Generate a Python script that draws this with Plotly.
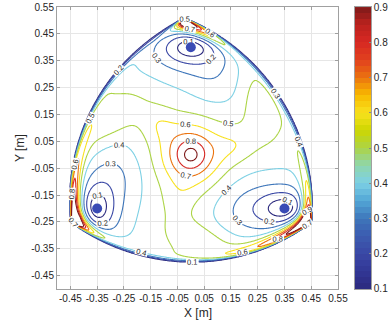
import numpy as np
import plotly.graph_objects as go

# ---------------- data ----------------
# boundary (rounded triangle made of three circular arcs through the vertices)
vertex_x = [-0.025, -0.448, 0.452]
vertex_y = [0.510, -0.252, -0.252]
arc_radius = 0.75

# minima (blue dots) and their wells
min_x = [0.0, -0.35, 0.35]
min_y = [0.40, -0.20, -0.20]
min_depth = [0.42, 0.42, 0.42]
min_sx = [0.13, 0.076, 0.115]
min_sy = [0.077, 0.103, 0.078]

# shoulders that stretch the 0.3/0.4 regions of the wells
shoulder_x = [0.09, -0.275, 0.19]
shoulder_y = [0.26, -0.06, -0.21]
shoulder_amp = [-0.08, -0.10, -0.09]
shoulder_sig = [0.075, 0.08, 0.08]

# central maximum
peak_x, peak_y = 0.0, 0.0
peak_amp = 0.50
peak_scale = 0.098
base_level = 0.46

# ridges from the centre towards the three saddles
ridge_ang = [12.0, 136.0, 255.0]
ridge_r = [0.17, 0.17, 0.17]
ridge_amp = [0.10, 0.10, 0.07]
ridge_len = [0.055, 0.055, 0.055]
ridge_wid = [0.045, 0.045, 0.045]

# lobes (>0.5) along the arcs: arc 0 = top-left, arc 1 = bottom, arc 2 = right
lobe_arc = [2, 0, 1]
lobe_theta = [33.0, 155.0, 275.0]
lobe_spread = [17.0, 17.0, 17.0]
lobe_depth = [0.085, 0.085, 0.085]
lobe_depth_slope = [0.0017, 0.0017, 0.0017]
lobe_width = [0.05, 0.05, 0.05]
lobe_amp = [0.13, 0.13, 0.13]

# hot spots along the arcs next to the vertices (cw side / ccw side)
spike_amp_cw = [6.0, 6.0, 6.0]
spike_len_cw = [0.16, 0.30, 0.28]
spike_amp_ccw = [2.0, 5.0, 5.0]
spike_len_ccw = [0.08, 0.12, 0.20]

levels = [0.1, 0.2, 0.3, 0.4, 0.5, 0.6, 0.7, 0.8, 0.9]
xticks = [-0.45, -0.35, -0.25, -0.15, -0.05, 0.05, 0.15, 0.25, 0.35, 0.45, 0.55]
yticks = [-0.45, -0.35, -0.25, -0.15, -0.05, 0.05, 0.15, 0.25, 0.35, 0.45, 0.55]

cmap_vals = [0.1, 0.15, 0.2, 0.25, 0.3, 0.35, 0.4, 0.45, 0.5, 0.55, 0.6, 0.65, 0.7, 0.75, 0.8, 0.85, 0.9]
cmap_rgb = [(44, 42, 126), (50, 55, 150), (58, 72, 165), (60, 92, 176), (62, 118, 186),
            (82, 166, 214), (125, 208, 228), (142, 214, 175), (172, 212, 70), (205, 214, 0),
            (248, 225, 30), (248, 185, 0), (235, 115, 15), (225, 65, 30), (214, 40, 35),
            (188, 34, 30), (125, 25, 25)]
n_bands = 48

# ---------------- field ----------------
N = 331
xs = np.linspace(-0.5, 0.55, N)
ys = np.linspace(-0.5, 0.55, N)
X, Y = np.meshgrid(xs, ys)
TH = np.degrees(np.arctan2(Y, X))

vx = np.array(vertex_x)
vy = np.array(vertex_y)
arc_d = []
for i in range(3):
    a = np.array([vx[i], vy[i]])
    b = np.array([vx[(i + 1) % 3], vy[(i + 1) % 3]])
    m = (a + b) / 2
    ch = b - a
    h = np.linalg.norm(ch) / 2
    n = np.array([-ch[1], ch[0]]) / np.linalg.norm(ch)
    if np.dot(n, -m) < 0:
        n = -n
    c = m + n * np.sqrt(arc_radius ** 2 - h ** 2)
    arc_d.append(arc_radius - np.hypot(X - c[0], Y - c[1]))
D = np.minimum(np.minimum(arc_d[0], arc_d[1]), arc_d[2])

F = base_level + peak_amp * np.exp(-(np.hypot(X - peak_x, Y - peak_y) / peak_scale) ** 1.5)
for k in range(3):
    q = ((X - min_x[k]) / min_sx[k]) ** 2 + ((Y - min_y[k]) / min_sy[k]) ** 2
    F -= min_depth[k] / (1 + q) * np.exp(-q / 10.0)
    F += shoulder_amp[k] * np.exp(-((X - shoulder_x[k]) ** 2 + (Y - shoulder_y[k]) ** 2)
                                  / (2 * shoulder_sig[k] ** 2))
for k in range(3):
    t = np.deg2rad(ridge_ang[k])
    cx, cy = ridge_r[k] * np.cos(t), ridge_r[k] * np.sin(t)
    u = (X - cx) * np.cos(t) + (Y - cy) * np.sin(t)
    v = -(X - cx) * np.sin(t) + (Y - cy) * np.cos(t)
    F += ridge_amp[k] * np.exp(-0.5 * ((u / ridge_len[k]) ** 2 + (v / ridge_wid[k]) ** 2))
for k in range(3):
    dth = (TH - lobe_theta[k] + 180.0) % 360.0 - 180.0
    dc = np.clip(lobe_depth[k] - lobe_depth_slope[k] * dth, 0.04, 0.16)
    F += lobe_amp[k] * np.exp(-0.5 * (dth / lobe_spread[k]) ** 2) \
        * np.exp(-0.5 * ((arc_d[lobe_arc[k]] - dc) / lobe_width[k]) ** 2)
# arc i joins vertex i and i+1: cw arc of vertex k is arc k-1, ccw arc is arc k
for k in range(3):
    s = np.hypot(X - vx[k], Y - vy[k])
    F += spike_amp_cw[k] * np.exp(-s / spike_len_cw[k]) * np.exp(-arc_d[(k - 1) % 3] / 0.015)
    F += spike_amp_ccw[k] * np.exp(-s / spike_len_ccw[k]) * np.exp(-arc_d[k] / 0.015)

Z = np.where(D > 0, F * np.tanh(np.clip(D, 0, None) / 0.028), 0.0)

# ---------------- colours ----------------
def cmap(v):
    return tuple(np.interp(v, cmap_vals, [c[j] for c in cmap_rgb]) for j in range(3))

smooth_cs = [[(v - 0.1) / 0.8, 'rgb(%d,%d,%d)' % c] for v, c in zip(cmap_vals, cmap_rgb)]
step_cs = []
for i in range(n_bands):
    col = 'rgb(%d,%d,%d)' % tuple(int(round(c)) for c in cmap(0.1 + 0.8 * (i + 0.5) / n_bands))
    step_cs.append([i / n_bands, col])
    step_cs.append([(i + 1) / n_bands, col])
band_centres = [0.1 + 0.8 * (i + 0.5) / n_bands for i in range(n_bands)]

font = 'Liberation Sans'
txt = '#262626'

fig = go.Figure()
fig.add_trace(go.Contour(
    x=xs, y=ys, z=Z,
    contours=dict(start=levels[0], end=levels[-1], size=0.1, coloring='lines',
                  showlabels=True, labelformat='.1f',
                  labelfont=dict(size=7.5, color=txt, family=font)),
    line=dict(width=1.1),
    colorscale=smooth_cs, zmin=0.1, zmax=0.9, showscale=False, hoverinfo='skip'))

fig.add_trace(go.Scatter(
    x=min_x, y=min_y, mode='markers',
    marker=dict(size=10, color='#3a4bb5'), showlegend=False, hoverinfo='skip'))

# colour bar drawn as a heatmap in its own axes
fig.add_trace(go.Heatmap(
    x=[0], y=band_centres, z=[[v] for v in band_centres],
    colorscale=step_cs, zmin=0.1, zmax=0.9, showscale=False,
    xaxis='x2', yaxis='y2', hoverinfo='skip'))

axis_common = dict(showgrid=True, gridcolor='#e6e6e6', gridwidth=1, zeroline=False,
                   showline=True, linecolor='#a0a0a0', linewidth=1, mirror='ticks',
                   ticks='inside', ticklen=3, tickcolor='#a0a0a0',
                   tickfont=dict(size=10, color=txt, family=font))
W, H = 391, 324
L, R, T, B = 57, 0, 7, 35
pw = W - L - R
fig.update_layout(
    width=W, height=H, margin=dict(l=L, r=R, t=T, b=B, autoexpand=False),
    plot_bgcolor='white', paper_bgcolor='white', showlegend=False,
    xaxis=dict(domain=[0, 281 / pw], range=[-0.5, 0.55], tickvals=xticks,
               ticktext=['%.2f' % v for v in xticks], **axis_common),
    yaxis=dict(domain=[0, 1], range=[-0.5, 0.55], tickvals=yticks,
               ticktext=['%.2f' % v for v in yticks], **axis_common),
    xaxis2=dict(domain=[298 / pw, 314 / pw], range=[-0.5, 0.5], showticklabels=False,
                showgrid=False, zeroline=False, showline=True, linecolor='#a0a0a0',
                linewidth=0.6, mirror=True, ticks='', anchor='y2'),
    yaxis2=dict(domain=[0, 1], range=[0.0999, 0.9001], side='right', anchor='x2',
                tickvals=levels, ticktext=['%.1f' % v for v in levels],
                showgrid=False, zeroline=False, showline=True, linecolor='#a0a0a0',
                linewidth=0.6, mirror=True, ticks='inside', ticklen=2, tickcolor='#888',
                tickfont=dict(size=10, color=txt, family=font)),
    annotations=[
        dict(text='X [m]', xref='paper', yref='paper', x=140.5 / pw, y=-0.085,
             xanchor='center', yanchor='middle', showarrow=False,
             font=dict(size=12, color=txt, family=font)),
        dict(text='Y [m]', xref='paper', yref='paper', x=-37 / pw, y=0.5,
             xanchor='center', yanchor='middle', showarrow=False, textangle=-90,
             font=dict(size=12, color=txt, family=font)),
    ])
fig.write_html('out.html', config={'displayModeBar': False},
               post_script="document.body.style.margin='0px';")
